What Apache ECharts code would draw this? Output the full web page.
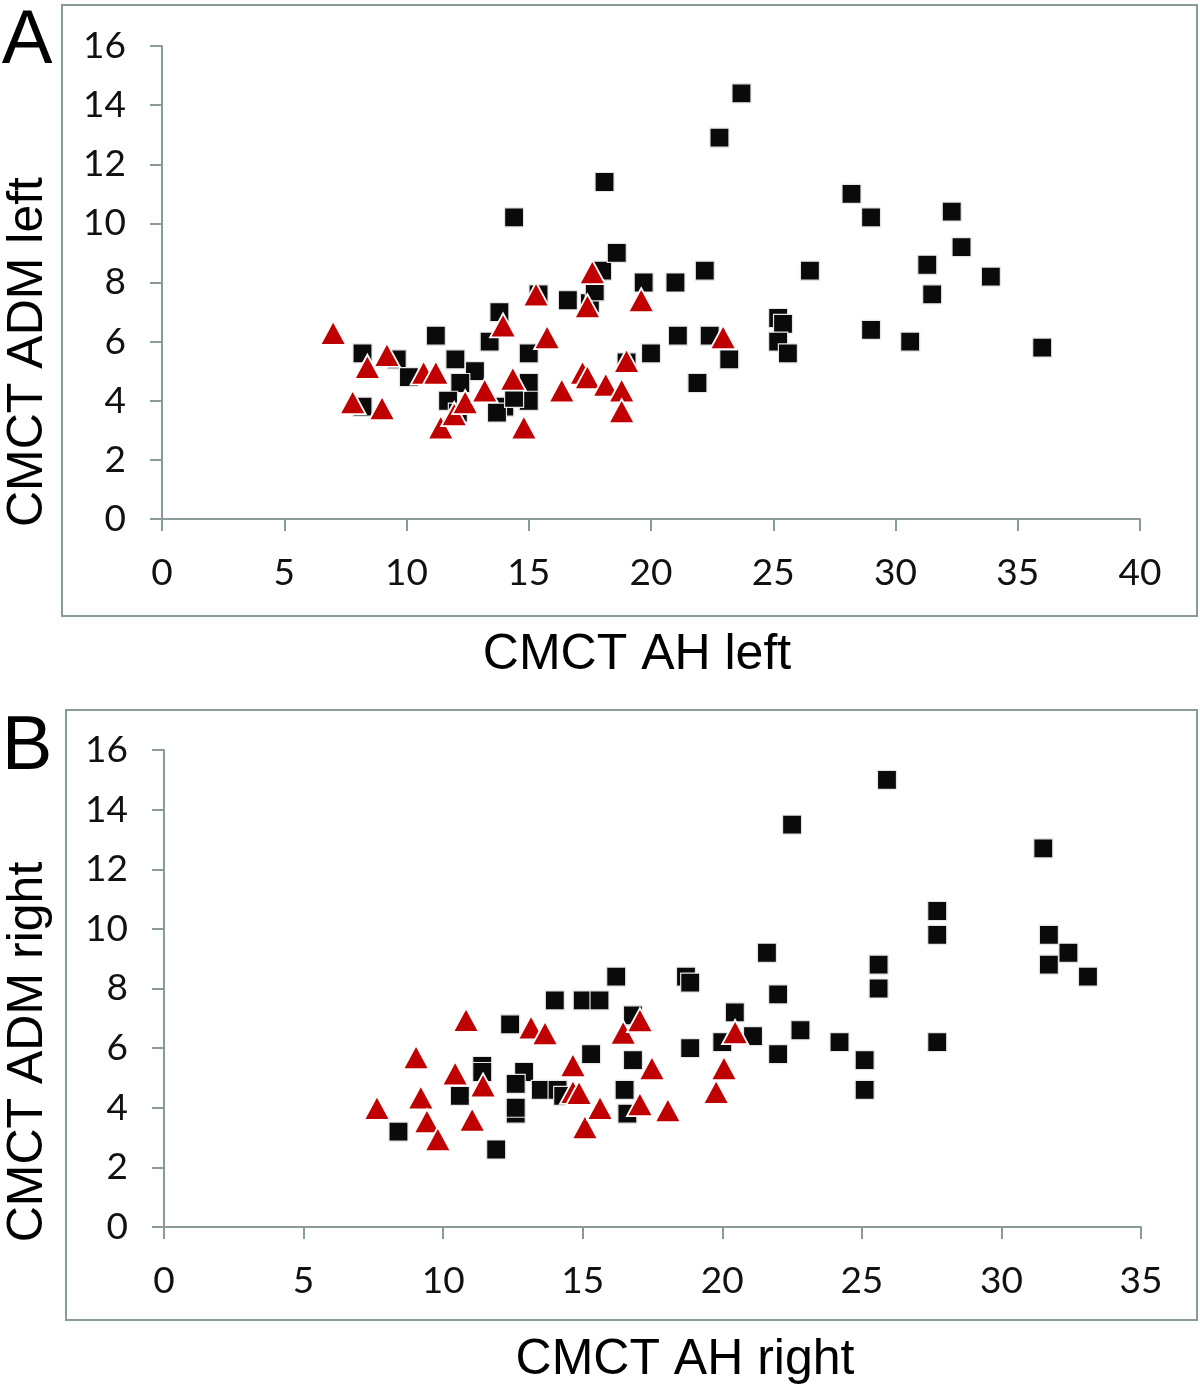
<!DOCTYPE html>
<html>
<head>
<meta charset="utf-8">
<script src="https://cdn.jsdelivr.net/npm/echarts@6/dist/echarts.min.js"></script>
<style>html,body{margin:0;padding:0;background:#fff}#c{width:1200px;height:1390px}</style>
</head>
<body>
<div id="c"></div>
<script>
// Panel A: CMCT AH left (x) vs CMCT ADM left (y)
const aSquares = [
  [8.2,5.6],[9.6,5.4],[10.1,4.8],[11.2,6.2],[12.0,5.4],[12.8,5.0],[12.2,4.6],[11.7,4.0],[12.1,3.6],[8.2,3.8],
  [13.4,6.0],[13.8,7.0],[15.0,5.6],[15.0,4.6],[15.0,4.0],[14.0,3.8],[13.7,3.6],[14.4,4.1],[14.4,10.2],[15.4,7.6],
  [16.6,7.4],[17.5,7.3],[17.7,7.7],[18.0,8.4],[18.6,9.0],[18.1,11.4],[19.7,8.0],[21.0,8.0],[22.2,8.4],[21.1,6.2],
  [22.4,6.2],[20.0,5.6],[23.2,5.4],[21.9,4.6],[19.0,5.3],[22.8,12.9],[23.7,14.4],[26.5,8.4],[28.2,11.0],[29.0,10.2],
  [32.3,10.4],[32.7,9.2],[31.3,8.6],[31.5,7.6],[33.9,8.2],[29.0,6.4],[30.6,6.0],[36.0,5.8],[25.2,6.8],[25.4,6.6],
  [25.2,6.0],[25.6,5.6]
];
const aTriangles = [
  [7.0,6.3],[9.2,5.55],[8.4,5.15],[7.8,3.95],[9.0,3.75],[10.7,4.95],[11.2,4.95],[11.4,3.1],[11.95,3.55],[12.4,3.95],
  [13.2,4.35],[14.35,4.75],[14.8,3.1],[13.95,6.55],[15.75,6.15],[15.3,7.6],[17.6,8.35],[17.4,7.2],[19.6,7.4],[22.95,6.15],
  [19.0,5.35],[17.2,4.95],[17.4,4.8],[18.15,4.55],[16.35,4.35],[18.8,4.35],[18.8,3.65]
];
// Panel B: CMCT AH right (x) vs CMCT ADM right (y)
const bSquares = [
  [8.4,3.2],[10.6,4.4],[11.4,5.4],[11.4,5.2],[11.9,2.6],[12.4,6.8],[12.9,5.2],[12.6,4.8],[12.6,3.8],[12.6,4.0],
  [13.5,4.6],[14.1,4.6],[14.3,4.4],[14.0,7.6],[15.0,7.6],[15.6,7.6],[15.3,5.8],[16.2,8.4],[16.8,7.1],[16.8,5.6],
  [16.5,4.6],[16.6,3.8],[18.7,8.4],[18.85,8.2],[18.85,6.0],[20.0,6.2],[20.45,7.2],[21.1,6.4],[21.6,9.2],[22.0,7.8],
  [22.0,5.8],[22.8,6.6],[22.5,13.5],[24.2,6.2],[25.1,5.6],[25.1,4.6],[25.6,8.8],[25.6,8.0],[25.9,15.0],[27.7,10.6],
  [27.7,9.8],[27.7,6.2],[31.5,12.7],[31.7,9.8],[32.4,9.2],[31.7,8.8],[33.1,8.4]
];
const bTriangles = [
  [7.63,4.0],[9.03,5.7],[9.2,4.35],[9.42,3.55],[9.81,2.95],[10.82,6.95],[10.43,5.15],[11.43,4.75],[11.04,3.6],[13.15,6.7],
  [13.65,6.5],[14.65,5.43],[14.65,4.53],[14.87,4.5],[15.08,3.35],[15.62,4.0],[16.45,6.52],[17.05,6.94],[17.05,4.12],[17.48,5.33],
  [18.05,3.92],[19.78,4.53],[20.06,5.33],[20.46,6.54]
];
const aXTicks = {min:0, max:40, interval:5};
const bXTicks = {min:0, max:35, interval:5};
const yTicks = {min:0, max:16, interval:2};
const labels = {
  panelA:'A', panelB:'B',
  aX:'CMCT AH left', aY:'CMCT ADM left',
  bX:'CMCT AH right', bY:'CMCT ADM right'
};

const axisGray = '#8a9a9a';
const tickFont = {fontFamily:'Lato', fontSize:37, color:'#111'};
const titleFont = 'Liberation Sans, Arial, sans-serif';

function xAxis(gi, t){
  return {type:'value', gridIndex:gi, min:t.min, max:t.max, interval:t.interval,
    axisLine:{show:true, onZero:false, lineStyle:{color:axisGray, width:2}},
    axisTick:{show:true, length:12, lineStyle:{color:axisGray, width:2}},
    axisLabel:Object.assign({margin:36}, tickFont),
    splitLine:{show:false}};
}
function yAxis(gi, t){
  return {type:'value', gridIndex:gi, min:t.min, max:t.max, interval:t.interval,
    axisLine:{show:true, onZero:false, lineStyle:{color:axisGray, width:2}},
    axisTick:{show:true, length:12, lineStyle:{color:axisGray, width:2}},
    axisLabel:Object.assign({margin:36}, tickFont),
    splitLine:{show:false}};
}
function sq(data, i){
  return {type:'scatter', xAxisIndex:i, yAxisIndex:i, data:data, symbol:'rect', symbolSize:19,
    itemStyle:{color:'#0a0a0a', borderColor:'#e6e6e6', borderWidth:1.2, opacity:1}, z:2};
}
function tri(data, i){
  return {type:'scatter', xAxisIndex:i, yAxisIndex:i, data:data, symbol:'triangle', symbolSize:[26,24],
    itemStyle:{color:'#c00000', borderColor:'#ffffff', borderWidth:1.8, opacity:1}, z:3};
}

const chart = echarts.init(document.getElementById('c'), null, {renderer:'canvas'});
chart.setOption({
  animation:false,
  backgroundColor:'#fff',
  grid:[
    {left:162, top:46, width:978, height:473},
    {left:164, top:750, width:977, height:477}
  ],
  xAxis:[xAxis(0, aXTicks), xAxis(1, bXTicks)],
  yAxis:[yAxis(0, yTicks), yAxis(1, yTicks)],
  series:[sq(aSquares,0), tri(aTriangles,0), sq(bSquares,1), tri(bTriangles,1)],
  graphic:[
    {type:'rect', shape:{x:62, y:5, width:1135, height:611}, style:{fill:null, stroke:axisGray, lineWidth:2}, silent:true, z:-1},
    {type:'rect', shape:{x:66, y:710, width:1131, height:610}, style:{fill:null, stroke:axisGray, lineWidth:2}, silent:true, z:-1},
    {type:'text', x:27, y:42, style:{text:labels.panelA, font:'76px '+titleFont, fill:'#000', textAlign:'center', textVerticalAlign:'middle'}},
    {type:'text', x:27, y:748, style:{text:labels.panelB, font:'76px '+titleFont, fill:'#000', textAlign:'center', textVerticalAlign:'middle'}},
    {type:'text', x:637, y:655, style:{text:labels.aX, font:'50px '+titleFont, fill:'#000', textAlign:'center', textVerticalAlign:'middle'}},
    {type:'text', x:685, y:1360, style:{text:labels.bX, font:'50px '+titleFont, fill:'#000', textAlign:'center', textVerticalAlign:'middle'}},
    {type:'text', x:28, y:352, rotation:Math.PI/2, style:{text:labels.aY, font:'50px '+titleFont, fill:'#000', textAlign:'center', textVerticalAlign:'middle'}},
    {type:'text', x:28, y:1052, rotation:Math.PI/2, style:{text:labels.bY, font:'50px '+titleFont, fill:'#000', textAlign:'center', textVerticalAlign:'middle'}}
  ]
});
</script>
</body>
</html>
